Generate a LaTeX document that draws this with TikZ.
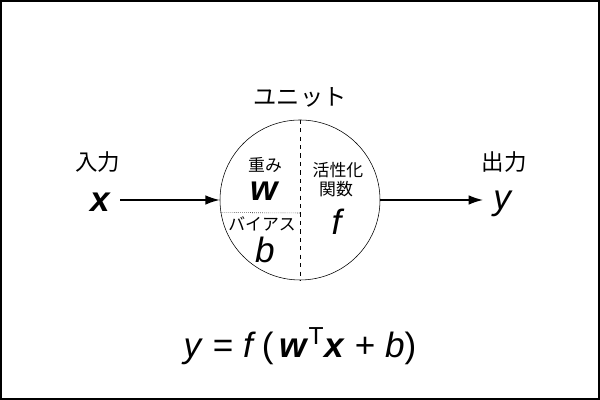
\documentclass[tikz,border=0pt]{standalone}
\usepackage{fontspec}
\setmainfont{Liberation Sans}
\newfontfamily\jp{Noto Sans CJK JP}
\usepackage{tikz}
\usetikzlibrary{arrows.meta,positioning}

\begin{document}
\begin{tikzpicture}
[unit/.style={circle,draw=black!100,thin,inner sep=0pt,minimum size=4cm},
jlabel/.style={font=\jp\fontsize{12}{14}\selectfont,inner sep=0pt},
var/.style={font=\fontsize{25}{28}\selectfont,inner sep=0pt},
flow/.style={-{Latex[length=3.6mm,width=2.4mm]},line width=1pt}]

\useasboundingbox (0,0) rectangle (15,10);
\draw [line width=1.6pt] (0.02,0.02) rectangle (14.98,9.98);

\node[unit] (U) at (7.5,5) {};
\node[jlabel,font=\jp\fontsize{16.5}{18}\selectfont] (UL) at (7.5,7.575) {ユニット};

\draw [dashed] (U.north) -- (U.south);
\draw [densely dotted] (U.189.35) -- (7.5,4.675);

\node[jlabel] (W0) at (6.625,5.875) {重み};
\node[var] (W) at (6.625,5.22) {\textbf{\textit{w}}};
\node[jlabel] (B0) at (6.55,4.4) {バイアス};
\node[var] (B) at (6.625,3.75) {\textit{b}};
\node[jlabel] (F0) at (8.45,5.75) {活性化};
\node[jlabel] (F1) at (8.4,5.27) {関数};
\node[var] (F) at (8.45,4.45) {\textit{f}};

\node[jlabel,font=\jp\fontsize{16}{18}\selectfont] (IN) at (2.45,5.95) {入力};
\node[var] (X) at (2.525,4.95) {\textbf{\textit{x}}};
\node[jlabel,font=\jp\fontsize{16}{18}\selectfont] (OUT) at (12.6,5.95) {出力};
\node[var] (Y) at (12.575,4.9) {\textit{y}};

\coordinate (X1) at (3.0,5);
\coordinate (Y1) at (12.075,5);
\draw [flow] (X1) -- (U.west);
\draw [flow] (U.east) -- (Y1);

\node[var] (E) at (7.5,1.35) {\textit{y} = \textit{f}\,(\,\textbf{\textit{w}}\textsuperscript{T}\textbf{\textit{x}} + \textit{b})};
\end{tikzpicture}
\end{document}
